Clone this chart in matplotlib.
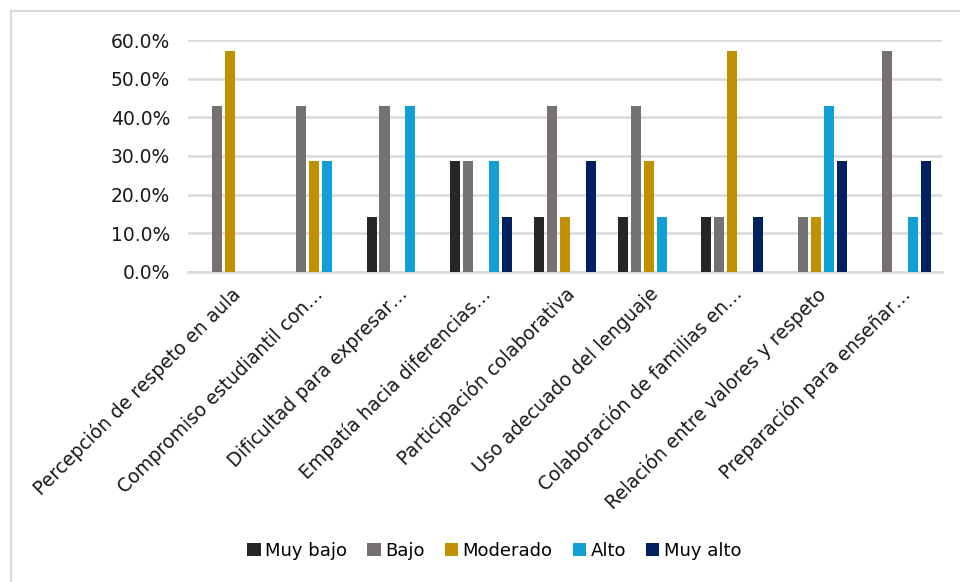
import matplotlib.pyplot as plt
import numpy as np
from matplotlib.ticker import PercentFormatter
from matplotlib.lines import Line2D

categorias = [
    "Percepción de respeto en aula",
    "Compromiso estudiantil con…",
    "Dificultad para expresar…",
    "Empatía hacia diferencias…",
    "Participación colaborativa",
    "Uso adecuado del lenguaje",
    "Colaboración de familias en…",
    "Relación entre valores y respeto",
    "Preparación para enseñar…",
]
niveles = ["Muy bajo", "Bajo", "Moderado", "Alto", "Muy alto"]
colores = ["#262626", "#767171", "#BF9000", "#119FD6", "#002060"]

muy_bajo = [0, 0, 14.3, 28.6, 14.3, 14.3, 14.3, 0, 0]
bajo = [42.9, 42.9, 42.9, 28.6, 42.9, 42.9, 14.3, 14.3, 57.1]
moderado = [57.1, 28.6, 0, 0, 14.3, 28.6, 57.1, 14.3, 0]
alto = [0, 28.6, 42.9, 28.6, 0, 14.3, 0, 42.9, 14.3]
muy_alto = [0, 0, 0, 14.3, 28.6, 0, 14.3, 28.6, 28.6]
series = [muy_bajo, bajo, moderado, alto, muy_alto]

plt.rcParams['font.family'] = ['DejaVu Sans']
fig = plt.figure(figsize=(9.6, 5.82), dpi=100)
ax = fig.add_axes([0.196, 0.533, 0.785, 0.398])

x = np.arange(len(categorias))
paso = 0.155
ancho = 0.12
for i, (vals, nom, col) in enumerate(zip(series, niveles, colores)):
    ax.bar(x + (i - 2) * paso, vals, width=ancho, color=col, label=nom, zorder=3)

ax.set_xlim(-0.5, len(categorias) - 0.5)
ax.set_ylim(0, 60)
ax.set_yticks(np.arange(0, 61, 10))
ax.yaxis.set_major_formatter(PercentFormatter(decimals=1))
ax.grid(axis='y', color='#D9D9D9', linewidth=1.8, zorder=0)
for s in ['top', 'right', 'left']:
    ax.spines[s].set_visible(False)
ax.spines['bottom'].set_color('#D9D9D9')
ax.spines['bottom'].set_linewidth(1.8)
ax.tick_params(axis='y', length=0, labelsize=13.5, pad=13, colors='#1a1a1a')
ax.set_xticks(x)
ax.set_xticklabels(categorias, rotation=45, ha='right', rotation_mode='anchor', fontsize=13.5, color='#1a1a1a')
ax.tick_params(axis='x', length=0, pad=9)

fig.legend(loc='center', bbox_to_anchor=(0.515, 0.053), ncol=5, frameon=False,
           fontsize=13, handlelength=0.75, handleheight=0.75, handletextpad=0.25, columnspacing=1.1)

# borde del gráfico
fig.add_artist(Line2D([0.0115, 0.0115], [0, 0.981], color='#D9D9D9', lw=1.5, transform=fig.transFigure))
fig.add_artist(Line2D([0.0115, 1.0], [0.981, 0.981], color='#D9D9D9', lw=1.5, transform=fig.transFigure))

fig.savefig('out.png', dpi=100)
